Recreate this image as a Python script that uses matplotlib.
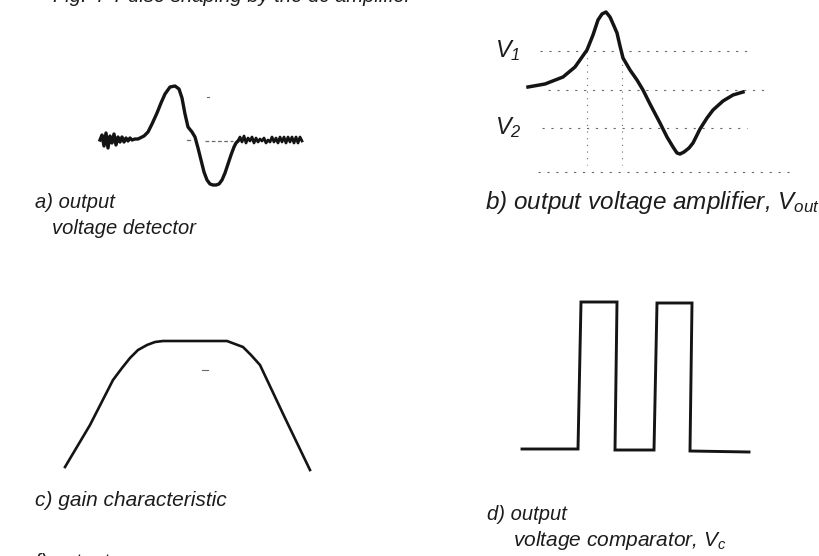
import matplotlib
matplotlib.use("Agg")
from matplotlib import pyplot

W, H = 820, 556
INK = "#141414"
DASH = "#6a6a6a"
FONT = ["Liberation Sans Narrow", "Liberation Sans", "DejaVu Sans"]

pyplot.rcParams["mathtext.fontset"] = "custom"
pyplot.rcParams["mathtext.it"] = "Liberation Sans:italic"
pyplot.rcParams["mathtext.rm"] = "Liberation Sans:italic"

# a) detector output: noisy baseline, positive lobe, negative lobe, noise again
det_x = [100, 102, 104, 106, 108, 110, 112, 114, 116, 118, 120, 122, 124, 126, 128, 130,
         132, 135, 138, 140, 144, 148, 152, 157, 161, 165, 170, 175, 179, 182, 185, 188,
         192, 195, 198, 201, 204, 207, 210, 213, 216, 219, 222, 225, 228, 231, 234, 236,
         238]
det_v = [0, 5, -6, 7, -8, 4, -3, 6, -5, 3, -2, 3, -2, 2, -1, 2,
         0, 1, 1, 2, 4, 8, 16, 27, 37, 46, 53, 54, 51, 42, 26, 13,
         8, 3, -8, -20, -32, -40, -44, -45, -45, -44, -40, -33, -24, -15, -7, -3,
         -1]
noise_x = [238, 240, 242, 244, 246, 248, 250, 252, 254, 256, 258, 260, 262, 264, 266, 268,
           270, 272, 274, 276, 278, 280, 282, 284, 286, 288, 290, 292, 294, 296, 298, 300,
           302]
noise_v = [-1, 3, -2, 4, -3, 2, -1, 3, -3, 2, -2, 1, -1, 2, -3, 0,
           -2, 3, -2, 2, -3, 3, -2, 3, -3, 3, -2, 3, -3, 3, -3, 3,
           -1]

# b) amplifier output with the two threshold levels
amp_x = [528, 545, 563, 575, 587, 593, 598, 602, 606, 610, 614, 617, 620, 623, 630, 637,
         643, 650, 660, 667, 673, 677, 680, 684, 689, 693, 700, 707, 713, 723, 733, 743]
amp_v = [3, 6, 13, 23, 40, 55, 70, 76, 78, 73, 64, 57, 44, 32, 20, 10,
         0, -14, -33, -47, -57, -63, -64, -62, -58, -53, -39, -28, -20, -11, -5, -2]
v1_level, v2_level, floor_level = 39, -38, -82

# c) gain characteristic
gain_x = [65, 90, 113, 122, 130, 138, 147, 155, 163, 195, 227, 235, 243, 251, 260, 285, 310]
gain_v = [3, 45, 90, 102, 112, 120, 125, 128, 129, 129, 129, 126, 123, 115, 105, 52, 0]

# d) comparator output
cmp_x = [522, 578, 581, 617, 615, 654, 657, 692, 690, 749]
cmp_v = [1, 1, 148, 148, 0, 0, 147, 147, -1, -2]

fig = pyplot.figure(figsize=(W / 100, H / 100), dpi=100)
fig.patch.set_facecolor("white")


def panel(x0, y0, x1, y1, base_y):
    """Axes over a pixel box; x in pixels, y measured upward from base_y."""
    ax = fig.add_axes([x0 / W, 1 - y1 / H, (x1 - x0) / W, (y1 - y0) / H])
    ax.set_xlim(x0, x1)
    ax.set_ylim(base_y - y1, base_y - y0)
    ax.axis("off")
    return ax


def label(x, y, s, size=14.5):
    fig.text(x / W, 1 - y / H, s, fontsize=size, style="italic", family=FONT,
             color="#1c1c1c", va="center", ha="left")


# a)
ax = panel(80, 60, 320, 200, 140)
ax.plot(det_x, det_v, color=INK, lw=2.4, solid_joinstyle="round")
ax.plot(noise_x, noise_v, color=INK, lw=2.0, solid_joinstyle="round")
ax.plot([205, 233], [-1, -1], color=DASH, lw=0.9, ls=(0, (3, 2)))
ax.plot([187, 190], [0, 0], color=DASH, lw=0.9)
ax.plot([207, 209], [43, 43], color=DASH, lw=0.8)

# b)
ax = panel(480, 0, 820, 190, 90)
for lev, a, b in [(v1_level, 540, 747), (0, 548, 767), (v2_level, 542, 747),
                  (floor_level, 538, 793)]:
    ax.plot([a, b], [lev, lev], color=DASH, lw=0.8, ls=(0, (2, 6)))
for xv in (587, 622):
    ax.plot([xv, xv], [v1_level, floor_level + 7], color=DASH, lw=0.8, ls=(0, (1, 5)))
ax.plot(amp_x, amp_v, color=INK, lw=2.5, solid_joinstyle="round")
for lev, sub in [(v1_level, "1"), (v2_level, "2")]:
    ax.text(495, lev, r"$V_{%s}$" % sub, fontsize=17, color="#1c1c1c",
            va="center", ha="left")

# c)
ax = panel(40, 320, 340, 480, 470)
ax.plot(gain_x, gain_v, color=INK, lw=1.9, solid_joinstyle="round")
ax.plot([202, 208], [100, 100], color=DASH, lw=0.8)

# d)
ax = panel(500, 280, 780, 470, 450)
ax.plot(cmp_x, cmp_v, color=INK, lw=2.1, solid_joinstyle="miter")

# captions
fig.text(412 / W, 1 - 2 / H, "Fig. 4  Pulse shaping by the dc amplifier", fontsize=14.5,
         style="italic", family=FONT, color="#1c1c1c", ha="right", va="baseline")
label(35, 203, "a) output")
label(52, 229, "voltage detector")
label(485, 203, r"b) output voltage amplifier, $V_{out}$", size=17.5)
label(35, 500, "c) gain characteristic", size=15)
label(487, 515, "d) output")
label(513, 541, r"voltage comparator, $V_c$", size=15)
fig.text(35 / W, 1 - 563 / H, "f) output", fontsize=14.5, style="italic", family=FONT,
         color="#1c1c1c", ha="left", va="center")

fig.savefig("out.png", dpi=100, facecolor="white")
